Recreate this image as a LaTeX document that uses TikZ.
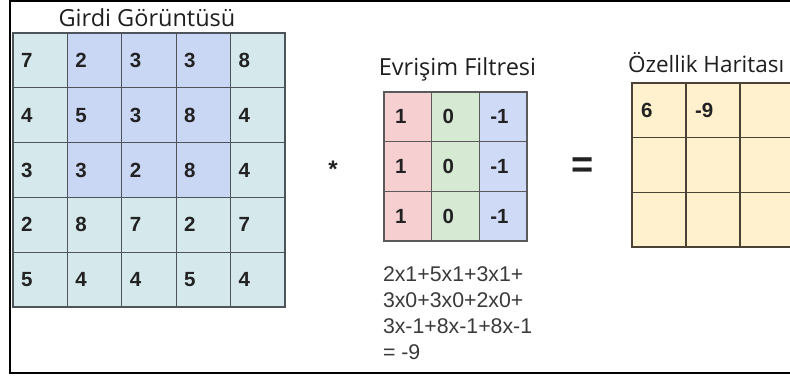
\documentclass[tikz,border=0pt]{standalone}
\usepackage{fontspec}
\setmainfont{Liberation Sans}
\newfontfamily\titlefont{Open Sans}
\begin{document}
\begin{tikzpicture}[x=1pt,y=-1pt,
  every node/.style={inner sep=0pt, outer sep=0pt},
  numfont/.style={font=\fontsize{20.5}{23}\selectfont\bfseries, text=numtext},
  cellbase/.style={draw=gridline, line width=1.3pt, anchor=north west,
    numfont, align=left},
  incell/.style={cellbase, minimum width=54.4pt, minimum height=54.8pt,
    text width=38.4pt, inner xsep=8pt},
  fcell/.style={cellbase, draw=filterline, minimum width=47.7pt, minimum height=49.7pt,
    text width=25.7pt, inner xsep=11pt},
  mcell/.style={cellbase, draw=mapline, fill=mapfill, minimum width=54pt, minimum height=54.7pt,
    text width=36pt, inner xsep=9pt},
  title/.style={font=\titlefont\fontsize{23.5}{26}\selectfont, text=titletext},
  sign/.style={text=numtext}
]
\definecolor{gridline}{HTML}{4E555A}
\definecolor{filterline}{HTML}{5A5A5A}
\definecolor{mapline}{HTML}{4A4234}
\definecolor{numtext}{HTML}{222222}
\definecolor{titletext}{HTML}{1E1E1E}
\definecolor{tealfill}{HTML}{D5E8EB}
\definecolor{bluefill}{HTML}{CAD7F4}
\definecolor{redfill}{HTML}{F6CFD0}
\definecolor{greenfill}{HTML}{D5E9D3}
\definecolor{fbluefill}{HTML}{CEDAF6}
\definecolor{mapfill}{HTML}{FFF1CD}
\definecolor{formulatext}{HTML}{3A3A3A}

\useasboundingbox (0,0) rectangle (790,380);
\clip (0,0) rectangle (790,380);

% outer frame (open on the right, where the page ends)
\draw[line width=2pt] (800,1) -- (10,1) -- (10,373) -- (800,373);

% input image, 5x5; the 3x3 window in the top middle is shaded blue
\foreach \row/\vals in {0/{7,2,3,3,8},1/{4,5,3,8,4},2/{3,3,2,8,4},3/{2,8,7,2,7},4/{5,4,4,5,4}}{
  \foreach \v [count=\c from 0] in \vals {
    \pgfmathsetmacro{\inwin}{(\row<3 && \c>0 && \c<4) ? 1 : 0}
    \ifnum\inwin=1 \def\cellfill{bluefill}\else\def\cellfill{tealfill}\fi
    \node[incell, fill=\cellfill] (in-\row-\c) at ({13+54.4*\c},{33+54.8*\row}) {\v};
  }
}
\node[title, anchor=base] (intitle) at (147,27) {Girdi Görüntüsü};

% convolution operator
\node[sign, font=\fontsize{24}{26}\selectfont\bfseries] (star) at (333,169) {*};

% 3x3 filter
\foreach \row in {0,1,2}{
  \node[fcell, fill=redfill]   (f-\row-0) at (384,{92+49.7*\row}) {1};
  \node[fcell, fill=greenfill] (f-\row-1) at (431.7,{92+49.7*\row}) {0};
  \node[fcell, fill=fbluefill] (f-\row-2) at (479.4,{92+49.7*\row}) {-1};
}
\node[title, anchor=base] (ftitle) at (457.5,75) {Evrişim Filtresi};

% worked sum for the second output cell
\node[anchor=north west, align=left, text=formulatext,
  font=\fontsize{21.3}{26}\selectfont] (sum) at (383,267)
  {2x1+5x1+3x1+\\3x0+3x0+2x0+\\3x-1+8x-1+8x-1\\= -9};

% equals sign
\node[sign, font=\fontsize{38}{40}\selectfont\bfseries] (eq) at (582.5,168) {=};

% feature map
\foreach \row in {0,1,2}{
  \foreach \c in {0,1,2}{
    \node[mcell] (m-\row-\c) at ({632+54*\c},{83+54.7*\row}) {};
  }
}
\node[anchor=west, numfont] (m6) at ([xshift=9pt]m-0-0.west) {6};
\node[anchor=west, numfont] (m9) at ([xshift=9pt]m-0-1.west) {-9};
\node[title, font=\titlefont\fontsize{22.5}{25}\selectfont, anchor=base west] (mtitle) at (628,72) {Özellik Haritası};
\end{tikzpicture}
\end{document}
